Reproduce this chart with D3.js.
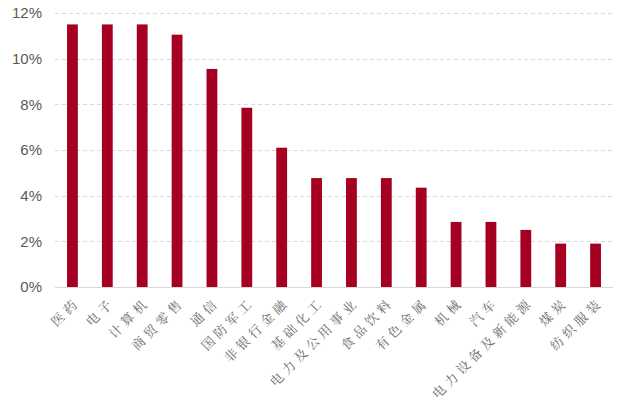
<!DOCTYPE html>
<html>
<head>
<meta charset="utf-8">
<script src="https://cdn.jsdelivr.net/npm/d3@7"></script>
<style>
  body { margin: 0; background: #fff; }
  svg { display: block; }
</style>
</head>
<body>
<div id="chart"></div>
<script>
const categories = ["医药", "电子", "计算机", "商贸零售", "通信", "国防军工", "非银行金融", "基础化工",
  "电力及公用事业", "食品饮料", "有色金属", "机械", "汽车", "电力设备及新能源", "煤炭", "纺织服装"];
const values = [11.5, 11.5, 11.5, 11.05, 9.55, 7.85, 6.1, 4.77, 4.77, 4.77, 4.35, 2.85, 2.85, 2.5, 1.9, 1.9];
const yTicks = [0, 2, 4, 6, 8, 10, 12];

const width = 621, height = 402;
const margin = { top: 13, right: 8, bottom: 115, left: 55 };

const svg = d3.select("#chart").append("svg")
  .attr("width", width)
  .attr("height", height);

const x = d3.scaleBand()
  .domain(categories)
  .range([margin.left, width - margin.right])
  .paddingInner(0.69)
  .paddingOuter(0.345);

const y = d3.scaleLinear()
  .domain([0, 12])
  .range([height - margin.bottom, margin.top]);

// grid
svg.append("g")
  .selectAll("line")
  .data(yTicks.filter(d => d > 0))
  .join("line")
  .attr("x1", margin.left)
  .attr("x2", width - margin.right)
  .attr("y1", d => Math.round(y(d)) + 0.5)
  .attr("y2", d => Math.round(y(d)) + 0.5)
  .attr("stroke", "#d9d9d9")
  .attr("stroke-dasharray", "4,3");

// y axis labels
svg.append("g")
  .selectAll("text")
  .data(yTicks)
  .join("text")
  .attr("x", margin.left - 13)
  .attr("y", d => y(d))
  .attr("dy", "0.36em")
  .attr("text-anchor", "end")
  .attr("font-family", "Liberation Sans, Arial, sans-serif")
  .attr("font-size", 15)
  .attr("fill", "#595959")
  .text(d => d + "%");

// bars
svg.append("g")
  .selectAll("rect")
  .data(values)
  .join("rect")
  .attr("x", (d, i) => x(categories[i]))
  .attr("width", x.bandwidth())
  .attr("y", d => y(d))
  .attr("height", d => y(0) - y(d))
  .attr("fill", "#a50021");

// baseline
svg.append("line")
  .attr("x1", margin.left)
  .attr("x2", width - margin.right)
  .attr("y1", Math.round(y(0)) + 0.5)
  .attr("y2", Math.round(y(0)) + 0.5)
  .attr("stroke", "#d9d9d9");

// category labels, rotated
svg.append("g")
  .selectAll("text")
  .data(categories)
  .join("text")
  .attr("transform", d => `translate(${x(d) + x.bandwidth() / 2 + 5},${y(0) + 13}) rotate(-45)`)
  .attr("text-anchor", "end")
  .attr("dy", "0.35em")
  .attr("font-family", "Noto Serif CJK SC, Noto Sans CJK SC, serif")
  .attr("font-size", 13)
  .attr("letter-spacing", 4)
  .attr("fill", "#6b6b6b")
  .text(d => d);
</script>
</body>
</html>
